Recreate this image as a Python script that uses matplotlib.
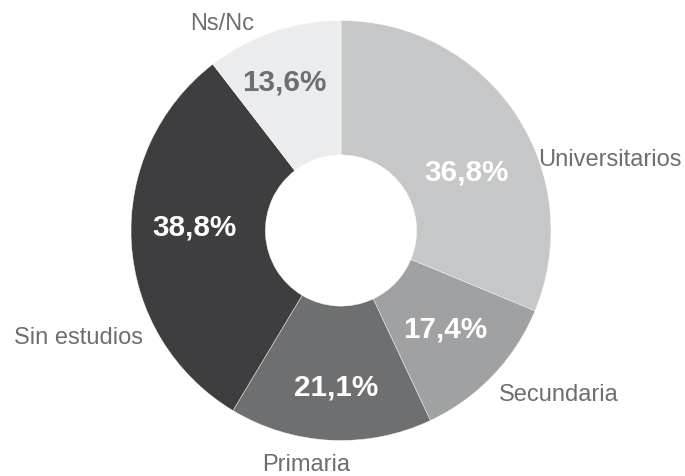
import matplotlib.pyplot as plt

# slice shares as drawn (angles) and the printed labels
categories = ["Universitarios", "Secundaria", "Primaria", "Sin estudios", "Ns/Nc"]
shares = [31.25, 11.75, 15.6, 30.95, 10.45]
pct_labels = ["36,8%", "17,4%", "21,1%", "38,8%", "13,6%"]

colors = ["#c6c7c9", "#a0a1a3", "#6e6f71", "#3e3e40", "#ebeced"]
pct_colors = ["white", "white", "white", "white", "#6d6e70"]
label_gray = "#6d6e70"

W, H = 685, 477
cx, cy, R = 341, H - 231.5, 210

fig = plt.figure(figsize=(W / 100, H / 100), dpi=100)
ax = fig.add_axes([0, 0, 1, 1])

ax.pie(shares, colors=colors, startangle=90, counterclock=False,
       radius=R, center=(cx, cy), frame=True,
       wedgeprops=dict(width=R * 0.64, edgecolor="white", linewidth=0.3))

# label spots, pixels from the centre (x right, y down)
pct_pos = [(125.7, -59), (104, 97.5), (-5, 156), (-147, -4), (-56.7, -149)]
name_pos = [(269, -71.5), (218, 164), (-35, 234), (-263, 107), (-119, -207.5)]

for txt, col, (dx, dy) in zip(pct_labels, pct_colors, pct_pos):
    ax.text(cx + dx, cy - dy, txt, ha="center", va="center", color=col,
            fontsize=21.3, fontweight="bold", family="Liberation Sans")

for txt, (dx, dy) in zip(categories, name_pos):
    ax.text(cx + dx, cy - dy, txt, ha="center", va="center", color=label_gray,
            fontsize=17, family="Liberation Sans")

ax.set_xlim(0, W)
ax.set_ylim(0, H)
ax.set_aspect("equal")
ax.axis("off")

fig.savefig("out.png", dpi=100)
